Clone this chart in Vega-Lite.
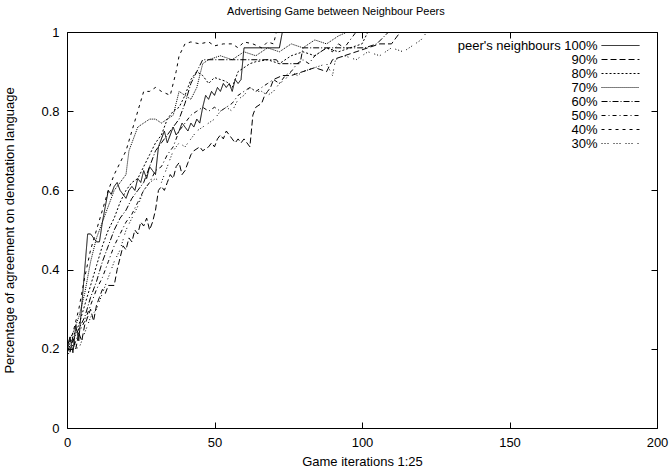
{
  "$schema": "https://vega.github.io/schema/vega-lite/v6.json",
  "width": 590,
  "height": 396,
  "autosize": "none",
  "padding": {"left": 67, "top": 32, "right": 13, "bottom": 43},
  "title": {"text": "Advertising Game between Neighbour Peers", "frame": "bounds", "anchor": "middle", "fontSize": 11, "fontWeight": "normal", "font": "Liberation Sans", "color": "black", "offset": 9},
  "datasets": {
    "runs": [
      {"series":"100%","iteration":0,"agreement":0.20},{"series":"100%","iteration":1,"agreement":0.23},{"series":"100%","iteration":2,"agreement":0.19},{"series":"100%","iteration":3,"agreement":0.26},{"series":"100%","iteration":4,"agreement":0.22},{"series":"100%","iteration":5,"agreement":0.31},{"series":"100%","iteration":6,"agreement":0.40},{"series":"100%","iteration":7,"agreement":0.49},{"series":"100%","iteration":8,"agreement":0.49},{"series":"100%","iteration":9,"agreement":0.48},{"series":"100%","iteration":10,"agreement":0.47},{"series":"100%","iteration":11,"agreement":0.47},{"series":"100%","iteration":12,"agreement":0.52},{"series":"100%","iteration":13,"agreement":0.56},{"series":"100%","iteration":14,"agreement":0.60},{"series":"100%","iteration":15,"agreement":0.59},{"series":"100%","iteration":16,"agreement":0.61},{"series":"100%","iteration":17,"agreement":0.62},{"series":"100%","iteration":18,"agreement":0.60},{"series":"100%","iteration":19,"agreement":0.59},{"series":"100%","iteration":20,"agreement":0.58},{"series":"100%","iteration":21,"agreement":0.60},{"series":"100%","iteration":22,"agreement":0.61},{"series":"100%","iteration":23,"agreement":0.60},{"series":"100%","iteration":24,"agreement":0.63},{"series":"100%","iteration":25,"agreement":0.62},{"series":"100%","iteration":26,"agreement":0.65},{"series":"100%","iteration":27,"agreement":0.63},{"series":"100%","iteration":28,"agreement":0.66},{"series":"100%","iteration":29,"agreement":0.65},{"series":"100%","iteration":30,"agreement":0.64},{"series":"100%","iteration":31,"agreement":0.71},{"series":"100%","iteration":32,"agreement":0.73},{"series":"100%","iteration":33,"agreement":0.75},{"series":"100%","iteration":34,"agreement":0.72},{"series":"100%","iteration":35,"agreement":0.74},{"series":"100%","iteration":36,"agreement":0.76},{"series":"100%","iteration":37,"agreement":0.74},{"series":"100%","iteration":38,"agreement":0.75},{"series":"100%","iteration":39,"agreement":0.77},{"series":"100%","iteration":40,"agreement":0.76},{"series":"100%","iteration":41,"agreement":0.75},{"series":"100%","iteration":42,"agreement":0.77},{"series":"100%","iteration":43,"agreement":0.76},{"series":"100%","iteration":44,"agreement":0.78},{"series":"100%","iteration":45,"agreement":0.77},{"series":"100%","iteration":46,"agreement":0.81},{"series":"100%","iteration":47,"agreement":0.84},{"series":"100%","iteration":48,"agreement":0.83},{"series":"100%","iteration":49,"agreement":0.85},{"series":"100%","iteration":50,"agreement":0.84},{"series":"100%","iteration":51,"agreement":0.86},{"series":"100%","iteration":52,"agreement":0.85},{"series":"100%","iteration":53,"agreement":0.87},{"series":"100%","iteration":54,"agreement":0.86},{"series":"100%","iteration":55,"agreement":0.87},{"series":"100%","iteration":56,"agreement":0.85},{"series":"100%","iteration":57,"agreement":0.88},{"series":"100%","iteration":58,"agreement":0.87},{"series":"100%","iteration":59,"agreement":0.88},{"series":"100%","iteration":60,"agreement":0.96},{"series":"100%","iteration":72,"agreement":0.96},{"series":"100%","iteration":73,"agreement":1},{"series":"100%","iteration":200,"agreement":1},

      {"series":"90%","iteration":0,"agreement":0.21},{"series":"90%","iteration":1,"agreement":0.19},{"series":"90%","iteration":2,"agreement":0.23},{"series":"90%","iteration":3,"agreement":0.20},{"series":"90%","iteration":4,"agreement":0.24},{"series":"90%","iteration":5,"agreement":0.22},{"series":"90%","iteration":6,"agreement":0.26},{"series":"90%","iteration":7,"agreement":0.28},{"series":"90%","iteration":8,"agreement":0.30},{"series":"90%","iteration":9,"agreement":0.27},{"series":"90%","iteration":10,"agreement":0.31},{"series":"90%","iteration":11,"agreement":0.33},{"series":"90%","iteration":12,"agreement":0.35},{"series":"90%","iteration":13,"agreement":0.34},{"series":"90%","iteration":14,"agreement":0.36},{"series":"90%","iteration":16,"agreement":0.36},{"series":"90%","iteration":17,"agreement":0.40},{"series":"90%","iteration":18,"agreement":0.43},{"series":"90%","iteration":19,"agreement":0.46},{"series":"90%","iteration":20,"agreement":0.45},{"series":"90%","iteration":21,"agreement":0.48},{"series":"90%","iteration":22,"agreement":0.47},{"series":"90%","iteration":23,"agreement":0.50},{"series":"90%","iteration":24,"agreement":0.49},{"series":"90%","iteration":25,"agreement":0.52},{"series":"90%","iteration":26,"agreement":0.51},{"series":"90%","iteration":27,"agreement":0.53},{"series":"90%","iteration":28,"agreement":0.50},{"series":"90%","iteration":29,"agreement":0.52},{"series":"90%","iteration":30,"agreement":0.55},{"series":"90%","iteration":31,"agreement":0.60},{"series":"90%","iteration":32,"agreement":0.61},{"series":"90%","iteration":33,"agreement":0.60},{"series":"90%","iteration":34,"agreement":0.62},{"series":"90%","iteration":35,"agreement":0.64},{"series":"90%","iteration":36,"agreement":0.63},{"series":"90%","iteration":37,"agreement":0.66},{"series":"90%","iteration":38,"agreement":0.67},{"series":"90%","iteration":39,"agreement":0.64},{"series":"90%","iteration":40,"agreement":0.65},{"series":"90%","iteration":41,"agreement":0.67},{"series":"90%","iteration":42,"agreement":0.69},{"series":"90%","iteration":43,"agreement":0.70},{"series":"90%","iteration":45,"agreement":0.71},{"series":"90%","iteration":46,"agreement":0.70},{"series":"90%","iteration":48,"agreement":0.71},{"series":"90%","iteration":49,"agreement":0.72},{"series":"90%","iteration":50,"agreement":0.71},{"series":"90%","iteration":51,"agreement":0.73},{"series":"90%","iteration":52,"agreement":0.74},{"series":"90%","iteration":53,"agreement":0.73},{"series":"90%","iteration":54,"agreement":0.75},{"series":"90%","iteration":55,"agreement":0.74},{"series":"90%","iteration":56,"agreement":0.73},{"series":"90%","iteration":57,"agreement":0.72},{"series":"90%","iteration":58,"agreement":0.73},{"series":"90%","iteration":59,"agreement":0.72},{"series":"90%","iteration":60,"agreement":0.73},{"series":"90%","iteration":62,"agreement":0.71},{"series":"90%","iteration":63,"agreement":0.79},{"series":"90%","iteration":64,"agreement":0.81},{"series":"90%","iteration":66,"agreement":0.82},{"series":"90%","iteration":67,"agreement":0.84},{"series":"90%","iteration":68,"agreement":0.85},{"series":"90%","iteration":69,"agreement":0.86},{"series":"90%","iteration":70,"agreement":0.88},{"series":"90%","iteration":73,"agreement":0.89},{"series":"90%","iteration":76,"agreement":0.89},{"series":"90%","iteration":80,"agreement":0.90},{"series":"90%","iteration":84,"agreement":0.91},{"series":"90%","iteration":88,"agreement":0.90},{"series":"90%","iteration":90,"agreement":0.93},{"series":"90%","iteration":94,"agreement":0.94},{"series":"90%","iteration":98,"agreement":0.95},{"series":"90%","iteration":102,"agreement":0.96},{"series":"90%","iteration":106,"agreement":0.97},{"series":"90%","iteration":110,"agreement":0.97},{"series":"90%","iteration":113,"agreement":1},{"series":"90%","iteration":200,"agreement":1},

      {"series":"80%","iteration":0,"agreement":0.20},{"series":"80%","iteration":2,"agreement":0.23},{"series":"80%","iteration":4,"agreement":0.26},{"series":"80%","iteration":6,"agreement":0.31},{"series":"80%","iteration":8,"agreement":0.36},{"series":"80%","iteration":10,"agreement":0.41},{"series":"80%","iteration":12,"agreement":0.46},{"series":"80%","iteration":14,"agreement":0.50},{"series":"80%","iteration":16,"agreement":0.53},{"series":"80%","iteration":18,"agreement":0.57},{"series":"80%","iteration":20,"agreement":0.60},{"series":"80%","iteration":22,"agreement":0.62},{"series":"80%","iteration":24,"agreement":0.63},{"series":"80%","iteration":26,"agreement":0.66},{"series":"80%","iteration":28,"agreement":0.69},{"series":"80%","iteration":30,"agreement":0.72},{"series":"80%","iteration":32,"agreement":0.74},{"series":"80%","iteration":34,"agreement":0.78},{"series":"80%","iteration":36,"agreement":0.80},{"series":"80%","iteration":38,"agreement":0.81},{"series":"80%","iteration":40,"agreement":0.84},{"series":"80%","iteration":42,"agreement":0.88},{"series":"80%","iteration":44,"agreement":0.90},{"series":"80%","iteration":46,"agreement":0.89},{"series":"80%","iteration":48,"agreement":0.87},{"series":"80%","iteration":50,"agreement":0.885},{"series":"80%","iteration":52,"agreement":0.88},{"series":"80%","iteration":54,"agreement":0.875},{"series":"80%","iteration":56,"agreement":0.86},{"series":"80%","iteration":58,"agreement":0.90},{"series":"80%","iteration":60,"agreement":0.91},{"series":"80%","iteration":62,"agreement":0.92},{"series":"80%","iteration":64,"agreement":0.925},{"series":"80%","iteration":68,"agreement":0.93},{"series":"80%","iteration":72,"agreement":0.92},{"series":"80%","iteration":76,"agreement":0.94},{"series":"80%","iteration":80,"agreement":0.95},{"series":"80%","iteration":84,"agreement":0.94},{"series":"80%","iteration":88,"agreement":0.96},{"series":"80%","iteration":92,"agreement":0.95},{"series":"80%","iteration":96,"agreement":0.96},{"series":"80%","iteration":100,"agreement":0.97},{"series":"80%","iteration":102,"agreement":1},{"series":"80%","iteration":200,"agreement":1},

      {"series":"70%","iteration":0,"agreement":0.21},{"series":"70%","iteration":2,"agreement":0.24},{"series":"70%","iteration":4,"agreement":0.28},{"series":"70%","iteration":6,"agreement":0.34},{"series":"70%","iteration":8,"agreement":0.42},{"series":"70%","iteration":10,"agreement":0.48},{"series":"70%","iteration":12,"agreement":0.52},{"series":"70%","iteration":14,"agreement":0.56},{"series":"70%","iteration":16,"agreement":0.60},{"series":"70%","iteration":18,"agreement":0.62},{"series":"70%","iteration":20,"agreement":0.64},{"series":"70%","iteration":21,"agreement":0.70},{"series":"70%","iteration":22,"agreement":0.72},{"series":"70%","iteration":24,"agreement":0.76},{"series":"70%","iteration":26,"agreement":0.77},{"series":"70%","iteration":28,"agreement":0.78},{"series":"70%","iteration":30,"agreement":0.78},{"series":"70%","iteration":32,"agreement":0.77},{"series":"70%","iteration":34,"agreement":0.78},{"series":"70%","iteration":36,"agreement":0.79},{"series":"70%","iteration":37,"agreement":0.82},{"series":"70%","iteration":38,"agreement":0.85},{"series":"70%","iteration":40,"agreement":0.84},{"series":"70%","iteration":42,"agreement":0.83},{"series":"70%","iteration":44,"agreement":0.86},{"series":"70%","iteration":46,"agreement":0.92},{"series":"70%","iteration":48,"agreement":0.93},{"series":"70%","iteration":52,"agreement":0.94},{"series":"70%","iteration":56,"agreement":0.93},{"series":"70%","iteration":60,"agreement":0.95},{"series":"70%","iteration":64,"agreement":0.94},{"series":"70%","iteration":68,"agreement":0.96},{"series":"70%","iteration":72,"agreement":0.95},{"series":"70%","iteration":76,"agreement":0.97},{"series":"70%","iteration":80,"agreement":0.96},{"series":"70%","iteration":84,"agreement":0.98},{"series":"70%","iteration":88,"agreement":0.97},{"series":"70%","iteration":92,"agreement":0.99},{"series":"70%","iteration":95,"agreement":1},{"series":"70%","iteration":200,"agreement":1},

      {"series":"60%","iteration":0,"agreement":0.19},{"series":"60%","iteration":2,"agreement":0.22},{"series":"60%","iteration":4,"agreement":0.25},{"series":"60%","iteration":6,"agreement":0.28},{"series":"60%","iteration":8,"agreement":0.33},{"series":"60%","iteration":10,"agreement":0.37},{"series":"60%","iteration":12,"agreement":0.42},{"series":"60%","iteration":14,"agreement":0.46},{"series":"60%","iteration":16,"agreement":0.50},{"series":"60%","iteration":18,"agreement":0.53},{"series":"60%","iteration":20,"agreement":0.55},{"series":"60%","iteration":22,"agreement":0.58},{"series":"60%","iteration":24,"agreement":0.60},{"series":"60%","iteration":26,"agreement":0.62},{"series":"60%","iteration":28,"agreement":0.66},{"series":"60%","iteration":30,"agreement":0.70},{"series":"60%","iteration":32,"agreement":0.72},{"series":"60%","iteration":34,"agreement":0.74},{"series":"60%","iteration":36,"agreement":0.76},{"series":"60%","iteration":38,"agreement":0.78},{"series":"60%","iteration":40,"agreement":0.82},{"series":"60%","iteration":42,"agreement":0.87},{"series":"60%","iteration":44,"agreement":0.90},{"series":"60%","iteration":46,"agreement":0.93},{"series":"60%","iteration":71,"agreement":0.93},{"series":"60%","iteration":72,"agreement":0.92},{"series":"60%","iteration":79,"agreement":0.92},{"series":"60%","iteration":80,"agreement":0.96},{"series":"60%","iteration":101,"agreement":0.96},{"series":"60%","iteration":105,"agreement":0.97},{"series":"60%","iteration":109,"agreement":1},{"series":"60%","iteration":200,"agreement":1},

      {"series":"50%","iteration":0,"agreement":0.21},{"series":"50%","iteration":2,"agreement":0.20},{"series":"50%","iteration":4,"agreement":0.24},{"series":"50%","iteration":6,"agreement":0.27},{"series":"50%","iteration":8,"agreement":0.31},{"series":"50%","iteration":10,"agreement":0.35},{"series":"50%","iteration":12,"agreement":0.38},{"series":"50%","iteration":14,"agreement":0.42},{"series":"50%","iteration":16,"agreement":0.46},{"series":"50%","iteration":18,"agreement":0.49},{"series":"50%","iteration":20,"agreement":0.52},{"series":"50%","iteration":22,"agreement":0.54},{"series":"50%","iteration":24,"agreement":0.57},{"series":"50%","iteration":26,"agreement":0.60},{"series":"50%","iteration":28,"agreement":0.62},{"series":"50%","iteration":30,"agreement":0.65},{"series":"50%","iteration":32,"agreement":0.66},{"series":"50%","iteration":34,"agreement":0.69},{"series":"50%","iteration":36,"agreement":0.71},{"series":"50%","iteration":38,"agreement":0.75},{"series":"50%","iteration":40,"agreement":0.77},{"series":"50%","iteration":42,"agreement":0.79},{"series":"50%","iteration":44,"agreement":0.80},{"series":"50%","iteration":46,"agreement":0.81},{"series":"50%","iteration":48,"agreement":0.80},{"series":"50%","iteration":50,"agreement":0.81},{"series":"50%","iteration":52,"agreement":0.80},{"series":"50%","iteration":54,"agreement":0.81},{"series":"50%","iteration":56,"agreement":0.82},{"series":"50%","iteration":58,"agreement":0.84},{"series":"50%","iteration":60,"agreement":0.85},{"series":"50%","iteration":62,"agreement":0.86},{"series":"50%","iteration":64,"agreement":0.85},{"series":"50%","iteration":66,"agreement":0.86},{"series":"50%","iteration":68,"agreement":0.87},{"series":"50%","iteration":70,"agreement":0.88},{"series":"50%","iteration":72,"agreement":0.87},{"series":"50%","iteration":74,"agreement":0.89},{"series":"50%","iteration":76,"agreement":0.90},{"series":"50%","iteration":78,"agreement":0.92},{"series":"50%","iteration":80,"agreement":0.93},{"series":"50%","iteration":82,"agreement":0.92},{"series":"50%","iteration":84,"agreement":0.94},{"series":"50%","iteration":86,"agreement":0.95},{"series":"50%","iteration":88,"agreement":0.96},{"series":"50%","iteration":90,"agreement":0.95},{"series":"50%","iteration":92,"agreement":0.97},{"series":"50%","iteration":94,"agreement":0.96},{"series":"50%","iteration":96,"agreement":0.98},{"series":"50%","iteration":98,"agreement":1},{"series":"50%","iteration":200,"agreement":1},

      {"series":"40%","iteration":0,"agreement":0.20},{"series":"40%","iteration":2,"agreement":0.24},{"series":"40%","iteration":4,"agreement":0.30},{"series":"40%","iteration":6,"agreement":0.38},{"series":"40%","iteration":8,"agreement":0.45},{"series":"40%","iteration":10,"agreement":0.50},{"series":"40%","iteration":12,"agreement":0.55},{"series":"40%","iteration":14,"agreement":0.60},{"series":"40%","iteration":16,"agreement":0.64},{"series":"40%","iteration":18,"agreement":0.67},{"series":"40%","iteration":20,"agreement":0.70},{"series":"40%","iteration":22,"agreement":0.75},{"series":"40%","iteration":24,"agreement":0.80},{"series":"40%","iteration":26,"agreement":0.85},{"series":"40%","iteration":28,"agreement":0.85},{"series":"40%","iteration":30,"agreement":0.86},{"series":"40%","iteration":32,"agreement":0.85},{"series":"40%","iteration":35,"agreement":0.84},{"series":"40%","iteration":36,"agreement":0.87},{"series":"40%","iteration":37,"agreement":0.90},{"series":"40%","iteration":38,"agreement":0.94},{"series":"40%","iteration":40,"agreement":0.97},{"series":"40%","iteration":42,"agreement":0.975},{"series":"40%","iteration":45,"agreement":0.97},{"series":"40%","iteration":48,"agreement":0.975},{"series":"40%","iteration":50,"agreement":0.965},{"series":"40%","iteration":53,"agreement":0.97},{"series":"40%","iteration":56,"agreement":0.97},{"series":"40%","iteration":58,"agreement":0.96},{"series":"40%","iteration":60,"agreement":0.975},{"series":"40%","iteration":63,"agreement":0.97},{"series":"40%","iteration":66,"agreement":0.96},{"series":"40%","iteration":68,"agreement":0.975},{"series":"40%","iteration":70,"agreement":0.97},{"series":"40%","iteration":71,"agreement":1},{"series":"40%","iteration":200,"agreement":1},

      {"series":"30%","iteration":0,"agreement":0.18},{"series":"30%","iteration":2,"agreement":0.21},{"series":"30%","iteration":4,"agreement":0.20},{"series":"30%","iteration":6,"agreement":0.24},{"series":"30%","iteration":8,"agreement":0.28},{"series":"30%","iteration":10,"agreement":0.30},{"series":"30%","iteration":12,"agreement":0.34},{"series":"30%","iteration":14,"agreement":0.38},{"series":"30%","iteration":16,"agreement":0.42},{"series":"30%","iteration":18,"agreement":0.45},{"series":"30%","iteration":20,"agreement":0.50},{"series":"30%","iteration":22,"agreement":0.53},{"series":"30%","iteration":24,"agreement":0.56},{"series":"30%","iteration":26,"agreement":0.60},{"series":"30%","iteration":28,"agreement":0.62},{"series":"30%","iteration":30,"agreement":0.63},{"series":"30%","iteration":32,"agreement":0.62},{"series":"30%","iteration":34,"agreement":0.66},{"series":"30%","iteration":36,"agreement":0.70},{"series":"30%","iteration":38,"agreement":0.72},{"series":"30%","iteration":40,"agreement":0.71},{"series":"30%","iteration":42,"agreement":0.73},{"series":"30%","iteration":44,"agreement":0.75},{"series":"30%","iteration":46,"agreement":0.76},{"series":"30%","iteration":48,"agreement":0.77},{"series":"30%","iteration":50,"agreement":0.78},{"series":"30%","iteration":52,"agreement":0.80},{"series":"30%","iteration":54,"agreement":0.81},{"series":"30%","iteration":56,"agreement":0.80},{"series":"30%","iteration":58,"agreement":0.83},{"series":"30%","iteration":60,"agreement":0.84},{"series":"30%","iteration":62,"agreement":0.86},{"series":"30%","iteration":64,"agreement":0.85},{"series":"30%","iteration":66,"agreement":0.85},{"series":"30%","iteration":68,"agreement":0.84},{"series":"30%","iteration":70,"agreement":0.85},{"series":"30%","iteration":72,"agreement":0.87},{"series":"30%","iteration":74,"agreement":0.88},{"series":"30%","iteration":76,"agreement":0.90},{"series":"30%","iteration":78,"agreement":0.89},{"series":"30%","iteration":80,"agreement":0.90},{"series":"30%","iteration":84,"agreement":0.91},{"series":"30%","iteration":88,"agreement":0.92},{"series":"30%","iteration":90,"agreement":0.89},{"series":"30%","iteration":91,"agreement":0.93},{"series":"30%","iteration":94,"agreement":0.94},{"series":"30%","iteration":98,"agreement":0.93},{"series":"30%","iteration":102,"agreement":0.95},{"series":"30%","iteration":106,"agreement":0.94},{"series":"30%","iteration":110,"agreement":0.96},{"series":"30%","iteration":114,"agreement":0.95},{"series":"30%","iteration":118,"agreement":0.97},{"series":"30%","iteration":120,"agreement":0.98},{"series":"30%","iteration":122,"agreement":1},{"series":"30%","iteration":200,"agreement":1}
    ]
  },
  "data": {"name": "runs"},
  "resolve": {"axis": {"x": "independent", "y": "independent"}},
  "layer": [
    {
      "mark": {"type": "line", "color": "black", "strokeWidth": 1, "clip": true},
      "encoding": {
        "x": {"field": "iteration", "type": "quantitative", "scale": {"domain": [0, 200], "nice": false},
              "axis": {"orient": "bottom", "values": [0, 50, 100, 150, 200], "title": "Game iterations 1:25", "labelPadding": 14, "titlePadding": 6, "labelFlush": false}},
        "y": {"field": "agreement", "type": "quantitative", "scale": {"domain": [0, 1], "nice": false},
              "axis": {"orient": "left", "values": [0, 0.2, 0.4, 0.6, 0.8, 1], "format": "~g", "title": "Percentage of agreement on denotation language", "labelPadding": 14, "titlePadding": 24, "labelFlush": false}},
        "strokeDash": {"field": "series", "type": "nominal",
          "scale": {"domain": ["100%", "90%", "80%", "70%", "60%", "50%", "40%", "30%"],
                    "range": [[1, 0], [6, 3], [2, 2], [1, 1], [6, 2, 1, 2], [4, 3, 1, 3], [3, 4], [1, 2, 1, 2, 1, 5]]},
          "legend": {"orient": "top-right", "offset": 7, "title": null, "symbolType": "M-4,0H4M5.7,0", "symbolSize": 90, "symbolStrokeWidth": 1, "symbolStrokeColor": "black",
                     "labelAlign": "right", "labelOffset": -29.5, "labelFontSize": 13, "labelFont": "Liberation Sans", "labelColor": "black", "labelLimit": 0,
                     "rowPadding": 0, "padding": 0,
                     "labelExpr": "datum.label == '100%' ? \"peer's neighbours 100%\" : datum.label"}},
        "detail": {"field": "series"}
      }
    },
    {
      "mark": {"type": "point", "opacity": 0},
      "encoding": {
        "x": {"field": "iteration", "type": "quantitative", "axis": {"orient": "top", "values": [0, 50, 100, 150, 200], "labels": false, "title": null}},
        "y": {"field": "agreement", "type": "quantitative", "axis": {"orient": "right", "values": [0, 0.2, 0.4, 0.6, 0.8, 1], "labels": false, "title": null}}
      }
    }
  ],
  "config": {
    "font": "Liberation Sans",
    "view": {"stroke": null},
    "axis": {"grid": false, "domainColor": "black", "domainWidth": 1, "tickColor": "black", "tickWidth": 1, "tickSize": -6,
             "labelColor": "black", "titleColor": "black", "labelFont": "Liberation Sans", "titleFont": "Liberation Sans",
             "labelFontSize": 13, "titleFontSize": 13, "titleFontWeight": "normal"}
  }
}
